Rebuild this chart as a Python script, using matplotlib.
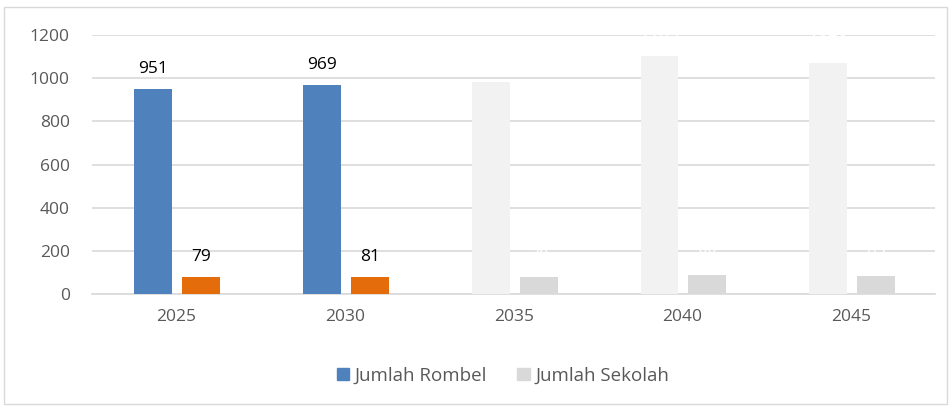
import matplotlib.pyplot as plt
import numpy as np
from matplotlib.patches import Rectangle

# data
years = ['2025', '2030', '2035', '2040', '2045']
rombel = [951, 969, 982, 1103, 1070]
sekolah = [79, 81, 79, 88, 83]

rombel_colors = ['#4F81BD', '#4F81BD', '#F2F2F2', '#F2F2F2', '#F2F2F2']
sekolah_colors = ['#E46C0A', '#E46C0A', '#D9D9D9', '#D9D9D9', '#D9D9D9']
label_colors = ['#000000', '#000000', 'white', 'white', 'white']

plt.rcParams['font.family'] = ['Open Sans', 'DejaVu Sans']

fig = plt.figure(figsize=(9.51, 4.08), dpi=100)
ax = fig.add_axes([0.0967, 0.279, 0.887, 0.635])

x = np.arange(len(years))
w = 0.225
ax.bar(x - 0.136, rombel, w, color=rombel_colors, zorder=3)
ax.bar(x + 0.148, sekolah, w, color=sekolah_colors, zorder=3)

for i in range(len(years)):
    ax.text(x[i] - 0.136, rombel[i] + 55, str(rombel[i]), ha='center', va='bottom',
            fontsize=12.5, color=label_colors[i], zorder=4)
    ax.text(x[i] + 0.148, sekolah[i] + 55, str(sekolah[i]), ha='center', va='bottom',
            fontsize=12.5, color=label_colors[i], zorder=4)

ax.set_xlim(-0.5, len(years) - 0.5)
ax.set_ylim(0, 1200)
ax.set_yticks(np.arange(0, 1201, 200))
ax.set_xticks(x)
ax.set_xticklabels(years)
ax.tick_params(length=0, labelsize=12.5, labelcolor='#595959')
ax.tick_params(axis='y', pad=16)
ax.tick_params(axis='x', pad=11)
ax.grid(axis='y', color='#D9D9D9', linewidth=1.2, zorder=0)
for s in ['top', 'right', 'left']:
    ax.spines[s].set_visible(False)
ax.spines['bottom'].set_color('#D9D9D9')
ax.spines['bottom'].set_linewidth(1.2)

handles = [Rectangle((0, 0), 1, 1, color='#4F81BD'), Rectangle((0, 0), 1, 1, color='#D9D9D9')]
fig.legend(handles, ['Jumlah Rombel', 'Jumlah Sekolah'], loc='center', bbox_to_anchor=(0.529, 0.08),
           ncol=2, frameon=False, fontsize=13.5, labelcolor='#595959',
           handlelength=0.65, handleheight=0.65, handletextpad=0.3, columnspacing=1.6)

# outer border
fig.patches.append(Rectangle((4 / 951, 4 / 408), 943 / 951, 397 / 408, transform=fig.transFigure,
                             fill=False, edgecolor='#D9D9D9', linewidth=1))

fig.savefig('out.png', dpi=100)
